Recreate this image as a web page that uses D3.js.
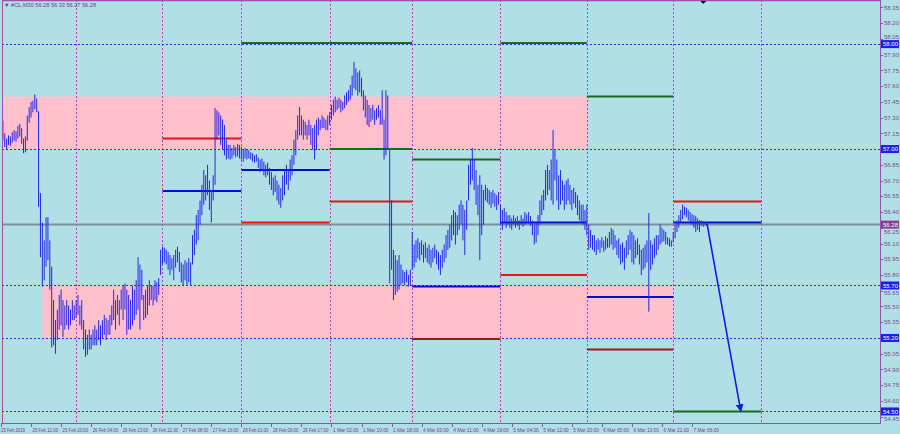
<!DOCTYPE html>
<html><head><meta charset="utf-8">
<script src="https://cdn.jsdelivr.net/npm/d3@7"></script>
<style>body{margin:0;background:#b0e0e6;} svg{display:block}</style>
</head><body>
<svg id="c" width="900" height="434"></svg>
<script>
// ---- data ----
const highs = [
57.28,57.27,57.15,57.10,57.13,57.12,57.16,57.18,57.17,57.22,
57.24,57.20,57.10,57.12,57.32,57.40,57.45,57.46,57.52,57.48,
57.36,56.58,56.30,56.13,56.35,56.35,56.13,55.88,55.56,55.37,
55.47,55.61,55.66,55.56,55.51,55.56,55.51,55.47,55.56,55.51,
55.56,55.61,55.51,55.56,55.37,55.28,55.23,55.28,55.23,55.28,
55.32,55.28,55.37,55.32,55.37,55.42,55.39,55.37,55.42,55.51,
55.66,55.56,55.61,55.56,55.66,55.70,55.72,55.66,55.61,55.56,
55.70,55.66,55.75,55.97,55.90,55.85,55.61,55.66,55.70,55.75,
55.70,55.70,55.75,55.73,55.77,56.04,56.07,56.06,56.04,56.02,
55.99,55.96,55.99,56.04,56.07,56.02,55.92,55.90,55.94,55.92,
55.96,55.92,56.18,56.23,56.37,56.42,56.51,56.66,56.80,56.75,
56.85,56.70,56.61,56.75,57.39,57.37,57.35,57.32,57.28,57.23,
57.09,57.04,57.04,57.01,57.04,57.02,57.05,57.04,57.02,56.99,
57.01,57.00,56.99,56.97,56.96,56.94,56.95,56.92,56.90,56.91,
56.88,56.85,56.87,56.82,56.78,56.73,56.75,56.70,56.66,56.63,
56.75,56.80,56.85,56.80,56.90,56.94,57.09,57.18,57.32,57.40,
57.32,57.28,57.26,57.23,57.28,57.23,57.20,57.23,57.28,57.30,
57.28,57.32,57.30,57.28,57.32,57.35,57.42,57.47,57.50,57.47,
57.49,57.47,57.45,57.51,57.54,57.56,57.61,57.70,57.83,57.77,
57.73,57.75,57.68,57.56,57.51,57.47,57.42,57.39,57.42,57.37,
57.39,57.42,57.37,57.56,57.28,57.56,57.51,56.99,56.51,56.04,
55.99,55.94,55.99,55.90,55.85,55.83,55.85,55.80,55.85,56.21,
56.09,56.13,56.15,56.11,56.13,56.09,56.11,56.06,56.09,56.04,
56.06,56.09,56.04,56.02,55.99,56.04,56.09,56.18,56.23,56.28,
56.37,56.42,56.40,56.37,56.47,56.51,56.47,56.42,56.51,56.85,
56.90,57.01,56.90,56.80,56.66,56.75,56.66,56.61,56.66,56.63,
56.61,56.59,56.61,56.58,56.56,56.59,56.47,56.42,56.44,56.40,
56.37,56.37,56.34,56.37,56.34,56.36,56.32,56.37,56.34,56.40,
56.38,56.40,56.36,56.32,56.28,56.30,56.37,56.51,56.56,56.61,
56.80,56.85,56.80,56.90,57.18,56.99,56.90,56.75,56.80,56.70,
56.66,56.70,56.72,56.66,56.61,56.63,56.59,56.56,56.51,56.47,
56.47,56.42,56.47,56.28,56.23,56.18,56.18,56.13,56.15,56.13,
56.16,56.13,56.17,56.15,56.21,56.25,56.23,56.18,56.13,56.15,
56.09,56.11,56.06,56.13,56.18,56.23,56.21,56.18,56.13,56.15,
56.09,56.04,56.06,56.09,56.13,56.39,56.13,56.09,56.15,56.18,
56.18,56.28,56.25,56.23,56.21,56.16,56.15,56.13,56.21,56.28,
56.32,56.37,56.42,56.47,56.45,56.44,56.42,56.40,56.38,56.37,
56.36,56.34,56.32,56.32,56.31,56.30,56.29];
const lows = [
57.12,57.08,57.02,57.00,57.04,57.03,57.06,57.08,57.07,57.10,
57.12,57.05,56.96,56.97,57.08,57.25,57.30,57.35,57.38,57.35,
56.45,55.97,55.69,55.75,55.88,55.94,55.66,55.11,55.13,55.05,
55.18,55.28,55.32,55.21,55.28,55.32,55.28,55.32,55.37,55.37,
55.39,55.42,55.32,55.28,55.09,55.02,55.04,55.09,55.09,55.13,
55.13,55.13,55.18,55.13,55.20,55.23,55.18,55.23,55.23,55.32,
55.37,55.28,55.42,55.32,55.47,55.37,55.47,55.23,55.28,55.28,
55.32,55.37,55.42,55.47,55.28,55.56,55.37,55.39,55.42,55.51,
55.56,55.51,55.56,55.54,55.61,55.80,55.90,55.92,55.90,55.85,
55.80,55.85,55.75,55.87,55.92,55.83,55.73,55.70,55.75,55.70,
55.73,55.70,55.90,55.99,56.09,56.13,56.28,56.37,56.47,56.51,
56.56,56.42,56.30,56.51,56.66,57.09,57.13,57.04,56.99,56.94,
56.90,56.91,56.90,56.91,56.94,56.92,56.93,56.91,56.90,56.88,
56.91,56.90,56.91,56.90,56.88,56.87,56.88,56.82,56.78,56.80,
56.75,56.73,56.75,56.66,56.61,56.56,56.59,56.51,56.47,56.44,
56.51,56.56,56.66,56.61,56.70,56.75,56.85,56.94,57.09,57.13,
57.13,57.09,57.13,57.09,57.13,57.04,56.99,56.90,56.99,57.13,
57.18,57.20,57.20,57.18,57.18,57.23,57.28,57.32,57.35,57.37,
57.39,57.35,57.37,57.39,57.42,57.45,57.47,57.51,57.58,57.56,
57.51,57.54,57.50,57.37,57.30,57.23,57.21,57.26,57.28,57.23,
57.28,57.30,57.23,57.23,56.90,56.94,57.00,55.72,55.85,55.56,
55.61,55.64,55.66,55.70,55.72,55.70,55.73,55.69,55.70,55.85,
55.87,55.92,55.96,55.94,55.99,55.92,55.96,55.92,55.90,55.87,
55.92,55.96,55.90,55.85,55.80,55.87,55.92,55.96,56.04,56.06,
56.13,56.18,56.09,56.18,56.23,56.28,56.13,55.99,56.23,56.51,
56.66,56.70,56.61,56.47,56.37,55.94,56.18,56.28,56.51,56.49,
56.47,56.44,56.48,56.45,56.42,56.47,56.28,56.23,56.30,56.25,
56.28,56.25,56.23,56.28,56.25,56.27,56.23,56.28,56.26,56.28,
56.30,56.29,56.27,56.18,56.09,56.11,56.18,56.28,56.37,56.42,
56.51,56.56,56.61,56.51,56.47,56.70,56.51,56.42,56.47,56.51,
56.42,56.47,56.51,56.47,56.42,56.48,56.44,56.37,56.32,56.30,
56.28,56.23,56.18,56.04,56.06,56.04,56.02,55.99,56.04,56.01,
56.06,56.02,56.04,56.06,56.06,56.09,56.04,56.06,55.99,55.96,
55.90,55.92,55.85,55.96,55.99,56.04,55.92,55.90,55.96,55.99,
55.90,55.80,55.85,55.87,55.92,55.45,55.85,55.90,55.96,55.99,
56.04,56.09,56.11,56.12,56.09,56.09,56.07,56.07,56.11,56.15,
56.21,56.25,56.30,56.33,56.37,56.35,56.32,56.30,56.28,56.25,
56.21,56.23,56.21,56.27,56.26,56.27,56.27];

const timeLabels = ["25 Feb 2019","25 Feb 12:00","25 Feb 20:00","26 Feb 04:00","26 Feb 13:00","26 Feb 21:00",
  "27 Feb 08:00","27 Feb 16:00","28 Feb 01:00","28 Feb 09:00","28 Feb 17:00","1 Mar 02:00","1 Mar 10:00",
  "1 Mar 18:00","4 Mar 03:00","4 Mar 11:00","4 Mar 19:00","5 Mar 04:00","5 Mar 12:00","5 Mar 20:00",
  "6 Mar 05:00","6 Mar 13:00","6 Mar 21:00","7 Mar 06:00"];
const barsPerLabel = 16;
const priceTicks = [58.35,58.20,58.05,57.90,57.75,57.60,57.45,57.30,57.15,57.00,56.85,56.70,56.55,56.40,
  56.25,56.10,55.95,55.80,55.65,55.50,55.35,55.20,55.05,54.90,54.75,54.60,54.45];
const markedPrices = [58.00, 57.00, 55.70, 55.20, 54.50];
const currentPrice = 56.28;
const dayStarts = [40, 86, 128, 175, 219, 266, 312, 358, 405];

const zoneFrom = [-2, 22];
const zoneTo   = [312, 358];
const zoneHigh = [57.50, 55.70];
const zoneLow  = [57.00, 55.20];

// daily levels: day index (into dayStarts), price, kind
const levelDay   = [1, 1, 2, 2, 2, 3, 3, 3, 4, 4, 4, 5, 5, 5, 6, 6, 6, 7, 7, 7];
const levelPrice = [57.10, 56.60, 56.80, 56.30, 58.01, 57.00, 56.50, 58.01, 56.90, 55.69, 55.19,
                    58.01, 56.30, 55.80, 57.50, 55.59, 55.09, 56.50, 56.30, 54.50];
const levelKind  = ["R","B","B","R","G","G","R","G","G","B","D","G","B","R","G","B","D","R","B","G"];

const arrowFromBar = 376, arrowFromPrice = 56.29;
const arrowToBar = 394, arrowToPrice = 54.50;
const title = "\u25BC #CL,M30  56.28 56.33 56.27 56.28";

// ---- drawing ----
const W = 900, H = 434;
const plotL = 2, plotR = 880, plotT = 0, plotB = 423;
const svg = d3.select("#c");
const x = d3.scaleLinear().domain([0, 368]).range([1, 692]);
const y = d3.scaleLinear().domain([54.39, 58.42]).range([plotB, plotT]);
const kindColor = {R: "#ee1111", B: "#0a0ad8", G: "#166c16", D: "#a01818"};
const frame = "#9a4fb0";
const font = "Liberation Sans, Arial, sans-serif";

svg.append("rect").attr("width", W).attr("height", H).attr("fill", "#b0e0e6");
svg.append("clipPath").attr("id", "clip").append("rect")
  .attr("x", plotL).attr("y", plotT).attr("width", plotR - plotL).attr("height", plotB - plotT);
const g = svg.append("g").attr("clip-path", "url(#clip)");

// zones
g.selectAll("rect.zone").data(zoneFrom.map((f, i) => i)).enter().append("rect")
  .attr("x", i => Math.max(plotL, x(zoneFrom[i])))
  .attr("width", i => x(zoneTo[i]) - Math.max(plotL, x(zoneFrom[i])))
  .attr("y", i => y(zoneHigh[i])).attr("height", i => y(zoneLow[i]) - y(zoneHigh[i]))
  .attr("fill", "#ffc0cb");

// day separators
g.selectAll("line.sep").data(dayStarts).enter().append("line")
  .attr("x1", d => Math.round(x(d)) + 0.5).attr("x2", d => Math.round(x(d)) + 0.5)
  .attr("y1", plotT).attr("y2", plotB)
  .attr("stroke", "#b040c8").attr("stroke-width", 1).attr("stroke-dasharray", "2,2");

// marked price dotted lines
g.selectAll("line.mark").data(markedPrices).enter().append("line")
  .attr("x1", plotL).attr("x2", plotR)
  .attr("y1", d => Math.round(y(d)) + 0.5).attr("y2", d => Math.round(y(d)) + 0.5)
  .attr("stroke", "#2a2af0").attr("stroke-width", 1).attr("stroke-dasharray", "2,2");

// current price line
g.append("line").attr("x1", plotL).attr("x2", plotR)
  .attr("y1", y(currentPrice)).attr("y2", y(currentPrice))
  .attr("stroke", "#7d8f96").attr("stroke-width", 2);

// daily levels
g.selectAll("line.lvl").data(levelDay.map((d, i) => i)).enter().append("line")
  .attr("x1", i => x(dayStarts[levelDay[i]])).attr("x2", i => x(dayStarts[levelDay[i] + 1]))
  .attr("y1", i => y(levelPrice[i])).attr("y2", i => y(levelPrice[i]))
  .attr("stroke", i => kindColor[levelKind[i]]).attr("stroke-width", 2);

// bars
const idx = d3.range(highs.length);
g.selectAll("line.bar").data(idx).enter().append("line")
  .attr("x1", i => x(i)).attr("x2", i => x(i))
  .attr("y1", i => y(highs[i])).attr("y2", i => y(lows[i]))
  .attr("stroke", "#2424ee").attr("stroke-width", 1);

// arrow
const defs = svg.append("defs");
defs.append("marker").attr("id", "ah").attr("viewBox", "0 0 10 10").attr("refX", 9).attr("refY", 5)
  .attr("markerWidth", 5).attr("markerHeight", 5).attr("orient", "auto")
  .append("path").attr("d", "M0,0 L10,5 L0,10 z").attr("fill", "#1a1ae0");
g.append("line")
  .attr("x1", x(arrowFromBar)).attr("y1", y(arrowFromPrice))
  .attr("x2", x(arrowToBar)).attr("y2", y(arrowToPrice))
  .attr("stroke", "#1a1ae0").attr("stroke-width", 1.6).attr("marker-end", "url(#ah)");

// frame
svg.append("line").attr("x1", plotL).attr("x2", plotR).attr("y1", 0.5).attr("y2", 0.5).attr("stroke", frame).attr("stroke-width", 1.5);
svg.append("line").attr("x1", plotL + 0.5).attr("x2", plotL + 0.5).attr("y1", 0).attr("y2", plotB).attr("stroke", frame);
svg.append("line").attr("x1", plotR + 0.5).attr("x2", plotR + 0.5).attr("y1", 0).attr("y2", plotB).attr("stroke", frame);
svg.append("line").attr("x1", plotL).attr("x2", plotR + 1).attr("y1", plotB + 0.5).attr("y2", plotB + 0.5).attr("stroke", frame);

// shift marker
svg.append("path").attr("d", d3.line()([[x(374) - 3, 1], [x(374) + 3, 1], [x(374), 4]]) + "Z").attr("fill", "#111");

// right axis
const boxH = 8;
const boxed = markedPrices.concat([currentPrice]);
function labelY(p) {
  const py = y(p);
  let best = null;
  boxed.forEach(b => {
    const by = y(b);
    if (Math.abs(by - py) < boxH + 1 && (best === null || Math.abs(by - py) < Math.abs(best - py))) best = by;
  });
  if (best === null) return py + 2.2;
  return py < best ? best - boxH / 2 - 0.6 : best + boxH / 2 + 5.2;
}
const visibleTicks = priceTicks.filter(p => !markedPrices.some(m => Math.abs(m - p) < 1e-6));
const ya = svg.append("g");
ya.selectAll("line").data(priceTicks).enter().append("line")
  .attr("x1", plotR).attr("x2", plotR + 3).attr("y1", d => Math.round(y(d)) + 0.5).attr("y2", d => Math.round(y(d)) + 0.5)
  .attr("stroke", frame);
ya.selectAll("text").data(visibleTicks).enter().append("text")
  .attr("x", plotR + 4).attr("y", d => labelY(d))
  .attr("font-family", font).attr("font-size", 6).attr("fill", "#7a4a90").text(d => d.toFixed(2));

function priceBox(p, fill) {
  const gg = svg.append("g");
  gg.append("rect").attr("x", plotR + 1).attr("y", y(p) - boxH / 2).attr("width", 18).attr("height", boxH).attr("fill", fill);
  gg.append("text").attr("x", plotR + 3).attr("y", y(p) + 2.2).attr("font-family", font)
    .attr("font-size", 6).attr("fill", "#fff").text(p.toFixed(2));
}
markedPrices.forEach(p => priceBox(p, "#1e1ef0"));
priceBox(currentPrice, "#8a3c96");

// bottom axis
const xa = svg.append("g");
const labelBars = timeLabels.map((t, i) => i * barsPerLabel);
xa.selectAll("line").data(labelBars).enter().append("line")
  .attr("x1", d => Math.round(x(d)) + 0.5).attr("x2", d => Math.round(x(d)) + 0.5)
  .attr("y1", plotB).attr("y2", plotB + 4).attr("stroke", frame);
xa.selectAll("text").data(labelBars).enter().append("text")
  .attr("x", (d, i) => i === 0 ? x(d) : x(d) + 1.5).attr("y", plotB + 8.5)
  .attr("font-family", font).attr("font-size", 5.6).attr("fill", "#7a3a8e")
  .attr("textLength", (d, i) => i === 0 ? 24 : 25.5).attr("lengthAdjust", "spacingAndGlyphs")
  .text((d, i) => timeLabels[i]);

// title
svg.append("text").attr("x", 4).attr("y", 6.5).attr("font-family", font).attr("font-size", 5.6)
  .attr("fill", "#6a3a80").text(title);
</script>
</body></html>
